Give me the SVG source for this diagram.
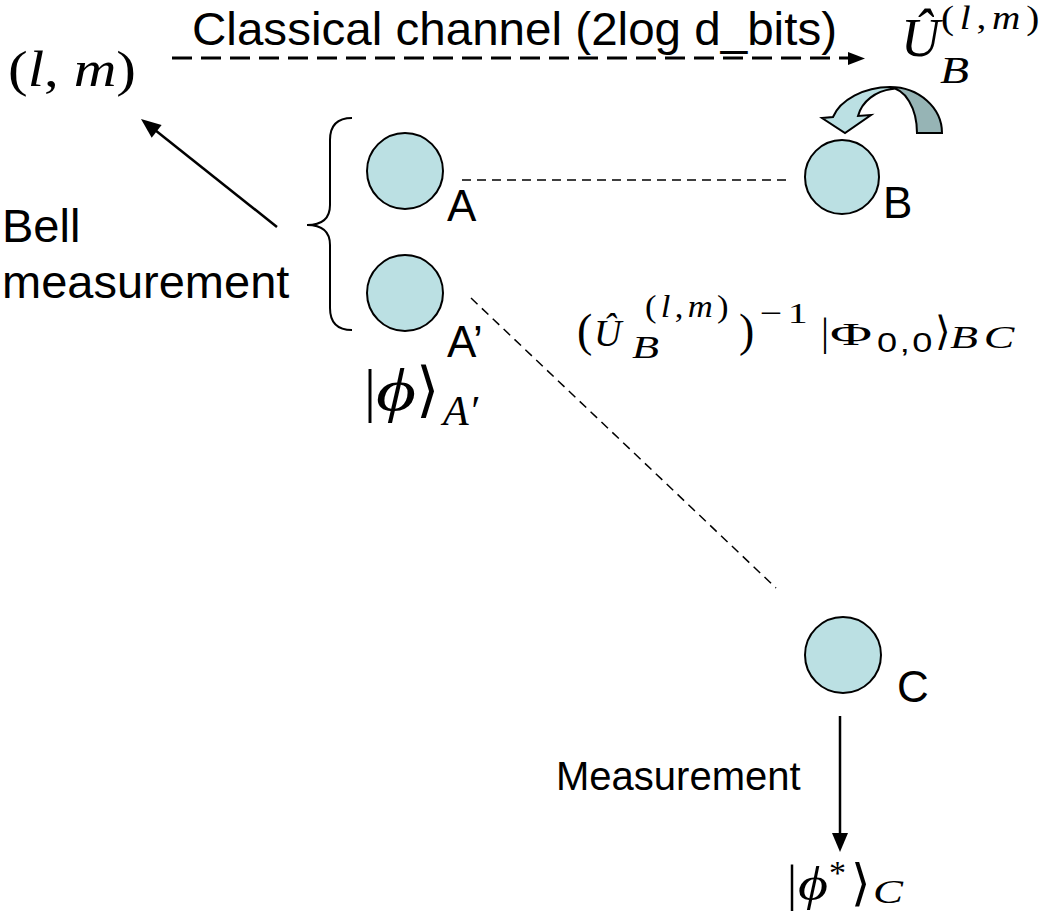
<svg xmlns="http://www.w3.org/2000/svg" width="1048" height="919" viewBox="0 0 1048 919">
<style>
.lbl{font-family:"Liberation Sans",Arial,sans-serif;fill:#000}
.m{font-family:"Liberation Serif","Times New Roman","DejaVu Serif",serif;fill:#000}
.i{font-style:italic}
.node{fill:#BBE0E3;stroke:#000;stroke-width:2}
.dash{stroke:#000;stroke-width:1.5;stroke-dasharray:9 6;fill:none}
.solid{stroke:#000;stroke-width:2.5;fill:none}
</style>
<g id="connectors">
  <line x1="172" y1="58" x2="850" y2="58" stroke="#000" stroke-width="3" stroke-dasharray="20 9"/>
  <polygon points="848,52 865,58.5 848,65" fill="#000"/>
  <line class="solid" x1="277" y1="227" x2="155" y2="130"/>
  <polygon points="141,119 161.6,125.1 151.7,137.7" fill="#000"/>
  <line class="dash" x1="462" y1="180" x2="787" y2="180"/>
  <line class="dash" x1="471" y1="298" x2="776" y2="588"/>
  <line class="solid" x1="840" y1="716" x2="840" y2="835"/>
  <polygon points="832,833 848,833 840,852" fill="#000"/>
</g>
<g id="brace">
  <path d="M352,118 Q330,118 330,140 L330,205 Q330,225 307,225 Q330,225 330,245 L330,308 Q330,330 352,330" fill="none" stroke="#000" stroke-width="2"/>
</g>
<g id="curved-arrow">
  <path d="M890,87 A52,46 0 0 1 942,133 L917,133 A27,45 0 0 0 890,88 Z" fill="#96B4B5" stroke="#000" stroke-width="2"/>
  <path d="M890,87 C864,87 840,100 833,117 L822,118 L845,133 L871,115 L858,116 C862,101 876,91 892,89 Z" fill="#BBE0E3" stroke="#000" stroke-width="2"/>
</g>
<g id="node-A">
  <circle class="node" cx="405" cy="171" r="38"/>
  <text class="lbl" x="447" y="221" font-size="44">A</text>
</g>
<g id="node-A2">
  <circle class="node" cx="405" cy="293" r="38"/>
  <text class="lbl" x="447" y="357" font-size="44">A’</text>
</g>
<g id="node-B">
  <circle class="node" cx="842" cy="177" r="37"/>
  <text class="lbl" x="883" y="218" font-size="44">B</text>
</g>
<g id="node-C">
  <circle class="node" cx="843" cy="655" r="38"/>
  <text class="lbl" x="897" y="702" font-size="44">C</text>
</g>
<g id="labels">
  <text class="lbl" x="192" y="45" font-size="47" textLength="645" lengthAdjust="spacingAndGlyphs">Classical channel (2log d_bits)</text>
  <text class="lbl" x="2" y="242" font-size="47">Bell</text>
  <text class="lbl" x="2" y="298" font-size="47">measurement</text>
  <text class="lbl" x="556" y="790" font-size="40">Measurement</text>
</g>
<g id="math">
  <text class="m" x="8" y="86" font-size="50" textLength="128" lengthAdjust="spacingAndGlyphs">(<tspan class="i">l</tspan>, <tspan class="i">m</tspan>)</text>

  <text class="m i" x="901" y="56" font-size="54">Û</text>
  <text class="m" x="941" y="29" font-size="34" letter-spacing="5" textLength="104" lengthAdjust="spacingAndGlyphs">(<tspan class="i">l</tspan>,<tspan class="i">m</tspan>)</text>
  <text class="m i" x="940" y="83" font-size="38" textLength="29" lengthAdjust="spacingAndGlyphs">B</text>

  <text class="m" x="577" y="346" font-size="46">(</text>
  <text class="m i" x="594" y="346" font-size="38">Û</text>
  <text class="m i" x="632" y="358" font-size="31" textLength="27" lengthAdjust="spacingAndGlyphs">B</text>
  <text class="m" x="645" y="317" font-size="32" letter-spacing="4" textLength="88" lengthAdjust="spacingAndGlyphs">(<tspan class="i">l</tspan>,<tspan class="i">m</tspan>)</text>
  <text class="m" x="739" y="346" font-size="46">)</text>
  <text class="m" x="760" y="323" font-size="30" letter-spacing="4" textLength="53" lengthAdjust="spacingAndGlyphs">−1</text>
  <text class="m" x="821" y="345" font-size="40">|</text>
  <text class="m" x="830" y="345" font-size="32" textLength="42" lengthAdjust="spacingAndGlyphs">Φ</text>
  <text class="lbl" x="877" y="352" font-size="28" letter-spacing="2" textLength="58" lengthAdjust="spacingAndGlyphs">0,0</text>
  <text class="m" x="935" y="345" font-size="40">⟩</text>
  <text class="m i" x="950" y="348" font-size="32" letter-spacing="4" textLength="70" lengthAdjust="spacingAndGlyphs">BC</text>

  <text class="m" x="364" y="410" font-size="60">|</text>
  <text class="m i" x="376" y="410" font-size="60" textLength="40" lengthAdjust="spacingAndGlyphs">ϕ</text>
  <text class="m" x="416" y="410" font-size="60">⟩</text>
  <text class="m i" x="443" y="425" font-size="42">A′</text>

  <text class="m" x="787" y="900" font-size="50">|</text>
  <text class="m i" x="798" y="900" font-size="48" textLength="30" lengthAdjust="spacingAndGlyphs">ϕ</text>
  <text class="m" x="829" y="884" font-size="34">*</text>
  <text class="m" x="851" y="900" font-size="50">⟩</text>
  <text class="m i" x="873" y="903" font-size="34" textLength="30" lengthAdjust="spacingAndGlyphs">C</text>
</g>
</svg>
